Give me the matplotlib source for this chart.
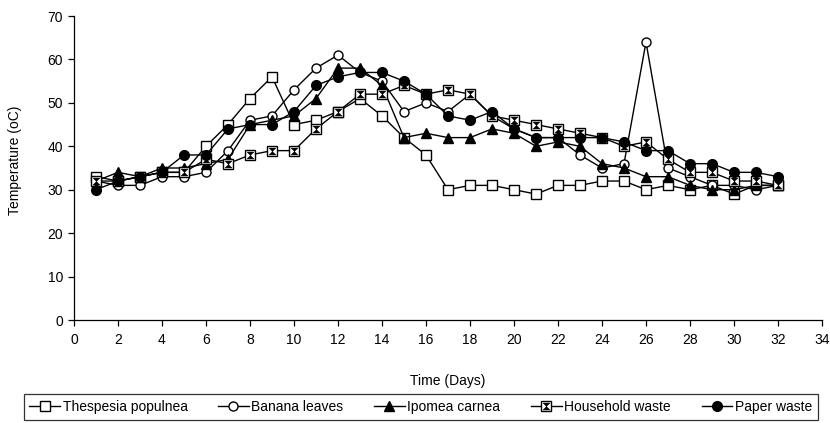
import matplotlib
matplotlib.use("Agg")
import matplotlib.pyplot as plt
from matplotlib.path import Path
from matplotlib.legend_handler import HandlerTuple

plt.rcParams['font.family'] = ['Liberation Sans', 'DejaVu Sans']

days = list(range(1, 33))
thespesia = [33, 32, 33, 34, 34, 40, 45, 51, 56, 45, 46, 48, 51, 47, 42, 38,
             30, 31, 31, 30, 29, 31, 31, 32, 32, 30, 31, 30, 31, 29, 31, 31]
banana = [32, 31, 31, 33, 33, 34, 39, 46, 47, 53, 58, 61, 57, 55, 48, 50,
          48, 52, 47, 44, 42, 42, 38, 35, 36, 64, 35, 33, 31, 31, 30, 31]
ipomea = [32, 34, 33, 35, 35, 36, 37, 45, 46, 47, 51, 58, 58, 54, 42, 43,
          42, 42, 44, 43, 40, 41, 40, 36, 35, 33, 33, 31, 30, 30, 31, 31]
household = [32, 32, 33, 34, 34, 37, 36, 38, 39, 39, 44, 48, 52, 52, 54, 52,
             53, 52, 47, 46, 45, 44, 43, 42, 40, 41, 37, 34, 34, 32, 32, 31]
paper = [30, 32, 33, 34, 38, 38, 44, 45, 45, 48, 54, 56, 57, 57, 55, 52,
         47, 46, 48, 44, 42, 42, 42, 42, 41, 39, 39, 36, 36, 34, 34, 33]
labels = ['Thespesia populnea', 'Banana leaves', 'Ipomea carnea',
          'Household waste', 'Paper waste']

W, H = 830, 423
fig = plt.figure(figsize=(W/100, H/100), dpi=100)
ax = fig.add_axes([74/W, 1-320/H, 748/W, 304/H])

ms = 6.5
lw = 1.0
h1, = ax.plot(days, thespesia, '-', color='black', lw=lw, marker='s', ms=ms+0.5,
              mfc='white', mec='black', mew=1.0, zorder=3)
h2, = ax.plot(days, banana, '-', color='black', lw=lw, marker='o', ms=ms,
              mfc='white', mec='black', mew=1.0, zorder=4)
h3, = ax.plot(days, ipomea, '-', color='black', lw=lw, marker='^', ms=ms+0.5,
              mfc='black', mec='black', mew=1.0, zorder=5)
h4a, = ax.plot(days, household, '-', color='black', lw=lw, marker='s', ms=ms,
               mfc='white', mec='black', mew=1.0, zorder=6)
hg = Path([(-1, 1), (1, 1), (0, 0), (-1, 1), (-1, -1), (1, -1), (0, 0), (-1, -1)],
          [Path.MOVETO, Path.LINETO, Path.LINETO, Path.CLOSEPOLY,
           Path.MOVETO, Path.LINETO, Path.LINETO, Path.CLOSEPOLY])
h4b, = ax.plot(days, household, 'none', marker=hg, ms=ms-1.5,
               mfc='black', mec='black', mew=0.3, zorder=6.5)
h5, = ax.plot(days, paper, '-', color='black', lw=lw, marker='o', ms=ms+0.5,
              mfc='black', mec='black', mew=1.0, zorder=7)

ax.set_xlim(0, 34)
ax.set_ylim(0, 70)
ax.set_xticks(range(0, 35, 2))
ax.set_yticks(range(0, 71, 10))
for s in ['top', 'right']:
    ax.spines[s].set_visible(False)
for s in ['left', 'bottom']:
    ax.spines[s].set_linewidth(0.9)
ax.tick_params(axis='both', direction='out', length=4, width=0.9,
               labelsize=10, colors='black', pad=4)
ax.tick_params(axis='x', pad=5)

fig.text(448/W, 1-381/H, 'Time (Days)', fontsize=10, ha='center', va='center')
fig.text(15/W, 1-160/H, 'Temperature (oC)', fontsize=10, ha='center',
         va='center', rotation=90)

leg = ax.legend([h1, h2, h3, (h4a, h4b), h5], labels,
                handler_map={tuple: HandlerTuple(ndivide=1)},
                loc='upper center', bbox_to_anchor=(0.4635, -0.245),
                ncol=5, fontsize=10, frameon=True, fancybox=False,
                edgecolor='black', handlelength=2.2, handletextpad=0.2,
                columnspacing=2.2, borderpad=0.4, borderaxespad=0)
leg.get_frame().set_linewidth(0.9)

fig.savefig('out.png', dpi=100)
